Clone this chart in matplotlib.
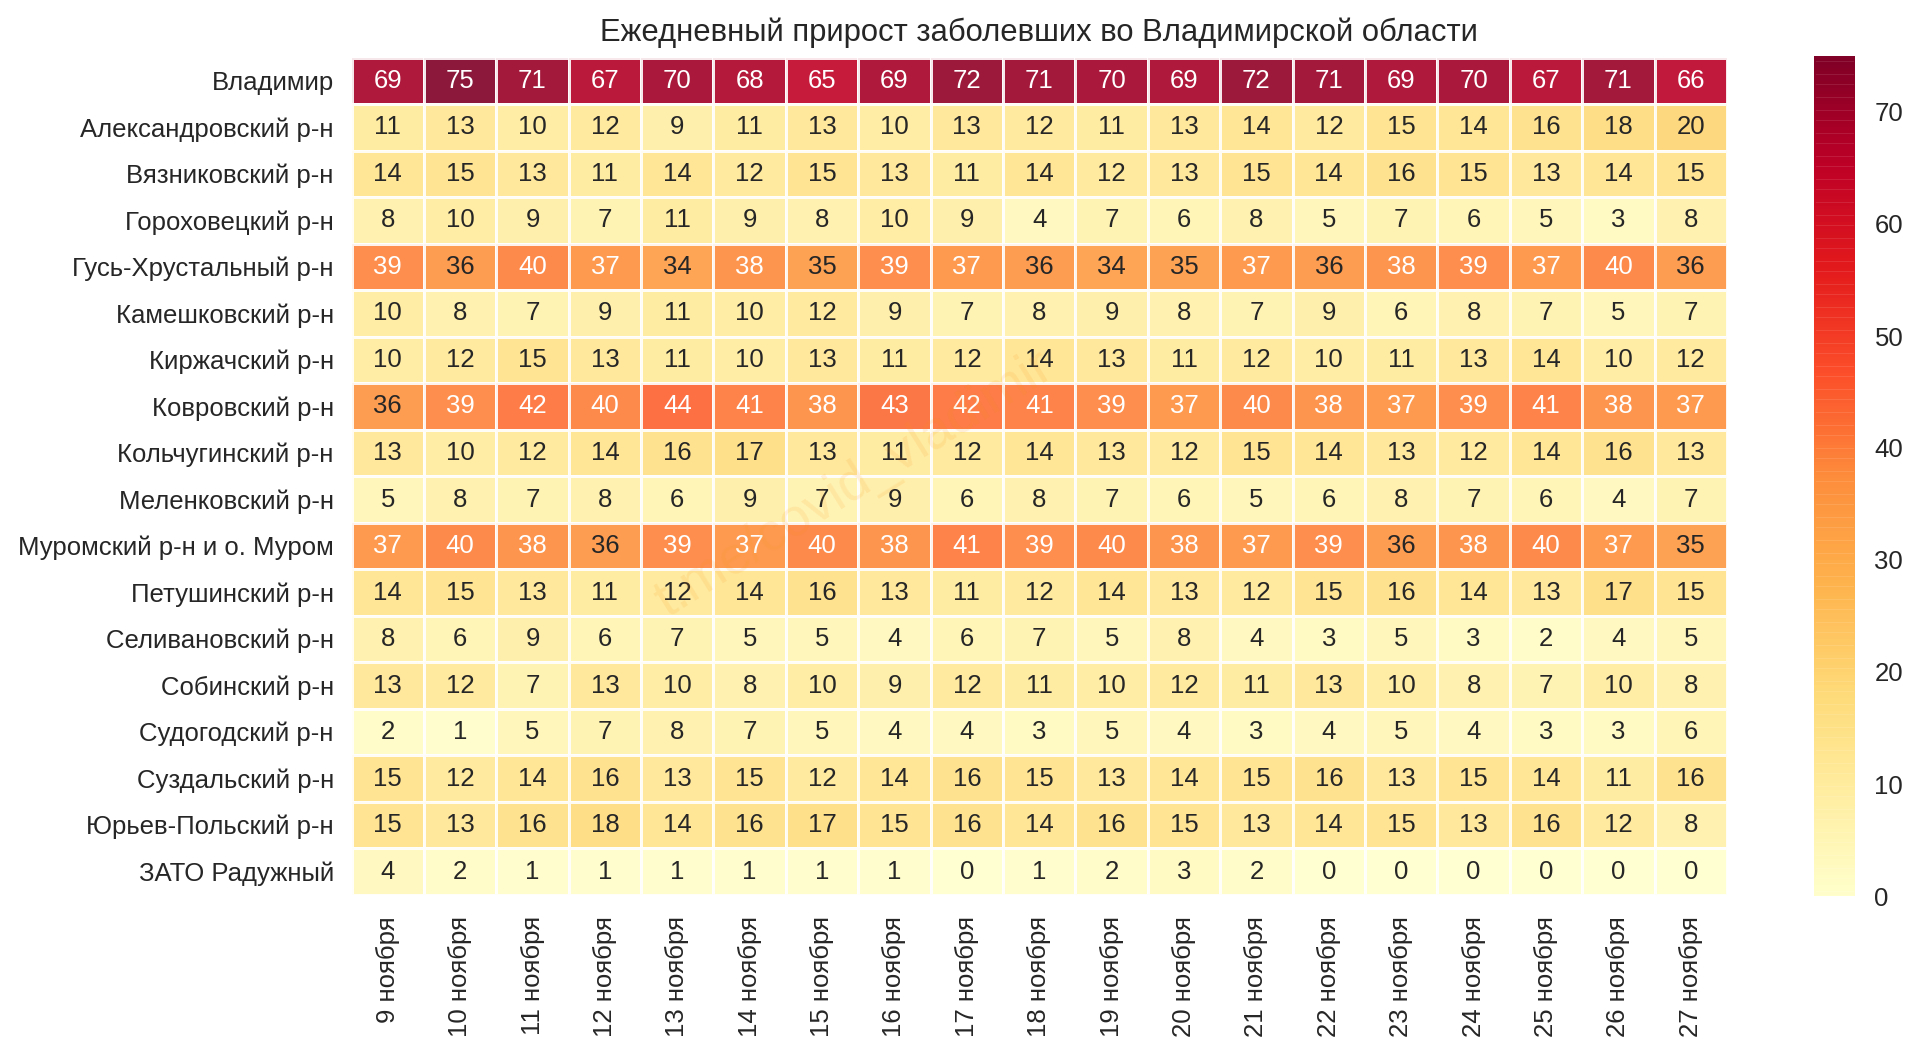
import numpy as np
import pandas as pd
import matplotlib
matplotlib.use("Agg")
import matplotlib.pyplot as plt
from matplotlib.transforms import ScaledTranslation
import seaborn as sns

districts = ["Владимир", "Александровский р-н", "Вязниковский р-н", "Гороховецкий р-н",
             "Гусь-Хрустальный р-н", "Камешковский р-н", "Киржачский р-н", "Ковровский р-н",
             "Кольчугинский р-н", "Меленковский р-н", "Муромский р-н и о. Муром", "Петушинский р-н",
             "Селивановский р-н", "Собинский р-н", "Судогодский р-н", "Суздальский р-н",
             "Юрьев-Польский р-н", "ЗАТО Радужный"]
dates = [f"{d} ноября" for d in [9, 10, 11, 12, 13, 14, 15, 16, 17, 18, 19, 20, 21, 22, 23, 24, 25, 26, 27]]

vladimir = [69, 75, 71, 67, 70, 68, 65, 69, 72, 71, 70, 69, 72, 71, 69, 70, 67, 71, 66]
aleksandrov = [11, 13, 10, 12, 9, 11, 13, 10, 13, 12, 11, 13, 14, 12, 15, 14, 16, 18, 20]
vyazniki = [14, 15, 13, 11, 14, 12, 15, 13, 11, 14, 12, 13, 15, 14, 16, 15, 13, 14, 15]
gorokhovets = [8, 10, 9, 7, 11, 9, 8, 10, 9, 4, 7, 6, 8, 5, 7, 6, 5, 3, 8]
gus = [39, 36, 40, 37, 34, 38, 35, 39, 37, 36, 34, 35, 37, 36, 38, 39, 37, 40, 36]
kameshkovo = [10, 8, 7, 9, 11, 10, 12, 9, 7, 8, 9, 8, 7, 9, 6, 8, 7, 5, 7]
kirzhach = [10, 12, 15, 13, 11, 10, 13, 11, 12, 14, 13, 11, 12, 10, 11, 13, 14, 10, 12]
kovrov = [36, 39, 42, 40, 44, 41, 38, 43, 42, 41, 39, 37, 40, 38, 37, 39, 41, 38, 37]
kolchugino = [13, 10, 12, 14, 16, 17, 13, 11, 12, 14, 13, 12, 15, 14, 13, 12, 14, 16, 13]
melenki = [5, 8, 7, 8, 6, 9, 7, 9, 6, 8, 7, 6, 5, 6, 8, 7, 6, 4, 7]
murom = [37, 40, 38, 36, 39, 37, 40, 38, 41, 39, 40, 38, 37, 39, 36, 38, 40, 37, 35]
petushki = [14, 15, 13, 11, 12, 14, 16, 13, 11, 12, 14, 13, 12, 15, 16, 14, 13, 17, 15]
selivanovo = [8, 6, 9, 6, 7, 5, 5, 4, 6, 7, 5, 8, 4, 3, 5, 3, 2, 4, 5]
sobinka = [13, 12, 7, 13, 10, 8, 10, 9, 12, 11, 10, 12, 11, 13, 10, 8, 7, 10, 8]
sudogda = [2, 1, 5, 7, 8, 7, 5, 4, 4, 3, 5, 4, 3, 4, 5, 4, 3, 3, 6]
suzdal = [15, 12, 14, 16, 13, 15, 12, 14, 16, 15, 13, 14, 15, 16, 13, 15, 14, 11, 16]
yuryev = [15, 13, 16, 18, 14, 16, 17, 15, 16, 14, 16, 15, 13, 14, 15, 13, 16, 12, 8]
raduzhny = [4, 2, 1, 1, 1, 1, 1, 1, 0, 1, 2, 3, 2, 0, 0, 0, 0, 0, 0]

df = pd.DataFrame([vladimir, aleksandrov, vyazniki, gorokhovets, gus, kameshkovo, kirzhach, kovrov,
                   kolchugino, melenki, murom, petushki, selivanovo, sobinka, sudogda, suzdal,
                   yuryev, raduzhny], index=districts, columns=dates)

sns.set_style("white")
plt.rcParams['font.family'] = ['Liberation Sans', 'DejaVu Sans']

W, H = 1920, 1052
fig = plt.figure(figsize=(W / 100, H / 100), dpi=100)
ax = fig.add_axes([351.5 / W, 1 - 895 / H, (1727 - 351.5) / W, (895 - 57.5) / H])
cax = fig.add_axes([1814 / W, 1 - 896 / H, 41 / W, 840 / H])

sns.heatmap(df, ax=ax, cbar_ax=cax, cmap="YlOrRd", vmin=0, vmax=75, alpha=0.9,
            annot=True, fmt="d", annot_kws={"fontsize": 18.5}, linewidths=2, linecolor="white")

# the reference colour bar shows the overlapping-band stripes of a translucent mesh
for coll in cax.collections:
    coll.set_edgecolor("face")
    coll.set_linewidth(1.0)

ax.set_title("Ежедневный прирост заболевших во Владимирской области", fontsize=22.3, color=".15", pad=12)
ax.tick_params(axis='both', length=0, labelsize=18.5, labelcolor=".15")
ax.tick_params(axis='x', pad=15.2)
ax.tick_params(axis='y', pad=12.7)
plt.setp(ax.get_xticklabels(), rotation=90)
plt.setp(ax.get_yticklabels(), rotation=0)
down = ScaledTranslation(0, -2 / 100, fig.dpi_scale_trans)
for lab in ax.get_yticklabels():
    lab.set_transform(lab.get_transform() + down)
cax.tick_params(length=0, labelsize=18.5, labelcolor=".15", pad=14)

fig.text(854 / W, 1 - 484 / H, "t.me/covid_vladimir", fontsize=38.5, color="#f7941d", alpha=0.13,
         rotation=32, ha="center", va="center", zorder=10)

fig.savefig("out.png", dpi=100)
